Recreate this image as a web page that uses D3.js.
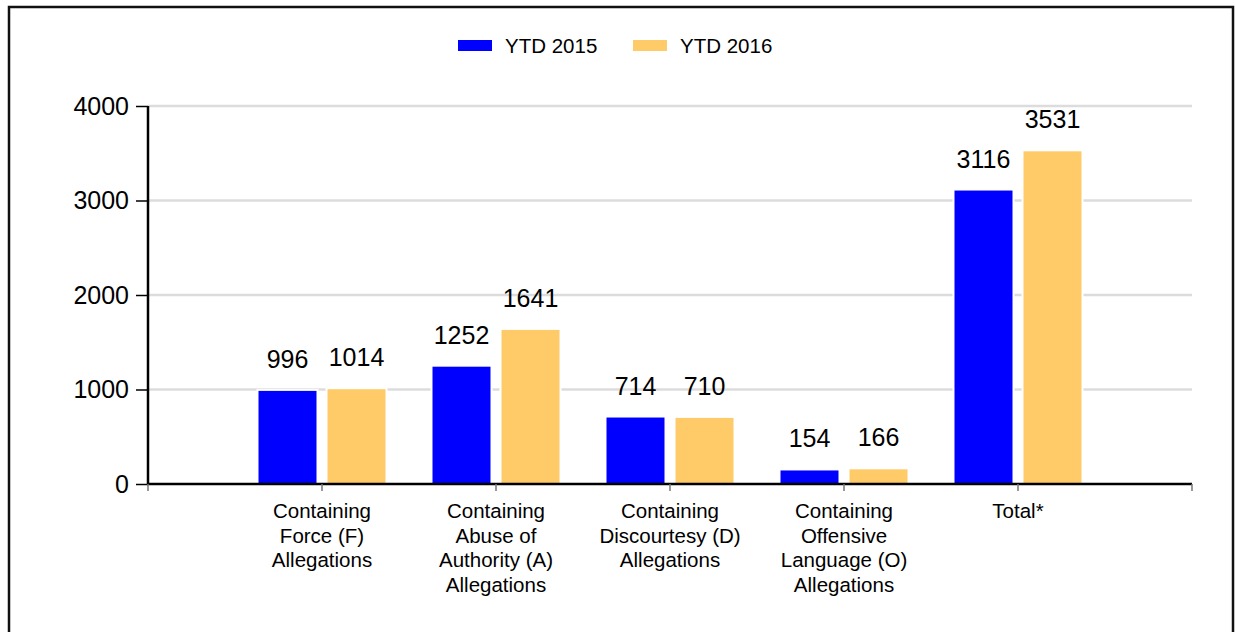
<!DOCTYPE html>
<html>
<head>
<meta charset="utf-8">
<script src="https://cdn.jsdelivr.net/npm/d3@7"></script>
<style>
  html, body { margin: 0; padding: 0; background: #fff; }
  svg { display: block; font-family: "Liberation Sans", Arial, sans-serif; }
</style>
</head>
<body>
<svg id="chart" width="1235" height="632"></svg>
<script>
// data
const categories = [
  ["Containing", "Force (F)", "Allegations"],
  ["Containing", "Abuse of", "Authority (A)", "Allegations"],
  ["Containing", "Discourtesy (D)", "Allegations"],
  ["Containing", "Offensive", "Language (O)", "Allegations"],
  ["Total*"]
];
const seriesNames = ["YTD 2015", "YTD 2016"];
const ytd2015 = [996, 1252, 714, 154, 3116];
const ytd2016 = [1014, 1641, 710, 166, 3531];
const yTicks = [0, 1000, 2000, 3000, 4000];

const colors = ["#0000ff", "#ffcb69"];

const width = 1235, height = 632;
const svg = d3.select("#chart");

// frame
svg.append("rect")
  .attr("x", 9).attr("y", 7)
  .attr("width", 1224).attr("height", 640)
  .attr("fill", "none")
  .attr("stroke", "#111")
  .attr("stroke-width", 2.5);

const x0 = 148, x1 = 1192, yTop = 106, yBot = 484;

const idx = categories.map((d, i) => i);
// one empty step of padding each side
const x = d3.scalePoint()
  .domain(idx)
  .range([x0, x1])
  .padding(1);

const y = d3.scaleLinear()
  .domain([0, 4000])
  .range([yBot, yTop]);

// gridlines
svg.append("g")
  .selectAll("line")
  .data(yTicks.filter(t => t > 0))
  .join("line")
  .attr("x1", x0).attr("x2", x1)
  .attr("y1", d => y(d)).attr("y2", d => y(d))
  .attr("stroke", "#dcdcdc")
  .attr("stroke-width", 2.5);

// bars
const barW = 60, gap = 9;
const series = [ytd2015, ytd2016];
series.forEach((vals, s) => {
  const off = s === 0 ? -gap / 2 - barW : gap / 2;
  svg.append("g")
    .selectAll("rect")
    .data(vals)
    .join("rect")
    .attr("x", (d, i) => x(i) + off)
    .attr("y", d => y(d))
    .attr("width", barW)
    .attr("height", d => yBot - y(d))
    .attr("fill", colors[s])
    .attr("stroke", "#fff")
    .attr("stroke-width", 2);

  svg.append("g")
    .selectAll("text")
    .data(vals)
    .join("text")
    .attr("x", (d, i) => x(i) + off + barW / 2)
    .attr("y", d => y(d) - 22)
    .attr("text-anchor", "middle")
    .attr("font-size", 25)
    .attr("fill", "#000")
    .text(d => d);
});

// y axis
const yAxis = d3.axisLeft(y)
  .tickValues(yTicks)
  .tickSize(12)
  .tickPadding(7)
  .tickFormat(d3.format("d"));
const gy = svg.append("g")
  .attr("transform", `translate(${x0},0)`)
  .call(yAxis);
gy.select(".domain").remove();
gy.selectAll(".tick line").attr("stroke", "#000").attr("stroke-width", 1.5);
gy.selectAll(".tick text")
  .attr("font-size", 25)
  .attr("font-family", "Liberation Sans, Arial, sans-serif")
  .attr("fill", "#000");
svg.append("line")
  .attr("x1", x0).attr("x2", x0)
  .attr("y1", yTop).attr("y2", yBot + 1)
  .attr("stroke", "#000").attr("stroke-width", 2.5);

// x axis
svg.append("line")
  .attr("x1", x0 - 1).attr("x2", x1)
  .attr("y1", yBot).attr("y2", yBot)
  .attr("stroke", "#000").attr("stroke-width", 2.5);

const xTickPos = [x0].concat(idx.map(i => x(i))).concat([x1]);
svg.append("g")
  .selectAll("line")
  .data(xTickPos)
  .join("line")
  .attr("x1", d => d).attr("x2", d => d)
  .attr("y1", yBot).attr("y2", yBot + 7)
  .attr("stroke", "#777")
  .attr("stroke-width", 1.5);

// category labels
const lab = svg.append("g")
  .selectAll("text")
  .data(categories)
  .join("text")
  .attr("text-anchor", "middle")
  .attr("font-size", 20.5)
  .attr("fill", "#000")
  .attr("transform", (d, i) => `translate(${x(i)},518)`);
lab.selectAll("tspan")
  .data(d => d)
  .join("tspan")
  .attr("x", 0)
  .attr("y", (d, j) => j * 24.5)
  .text(d => d);

// legend
const legendX = [458, 633];
const lg = svg.append("g")
  .selectAll("g")
  .data(seriesNames)
  .join("g")
  .attr("transform", (d, i) => `translate(${legendX[i]},40)`);
lg.append("rect")
  .attr("width", 34).attr("height", 11)
  .attr("fill", (d, i) => colors[i]);
lg.append("text")
  .attr("x", 47).attr("y", 12.5)
  .attr("font-size", 20.5)
  .attr("fill", "#000")
  .text(d => d);
</script>
</body>
</html>
